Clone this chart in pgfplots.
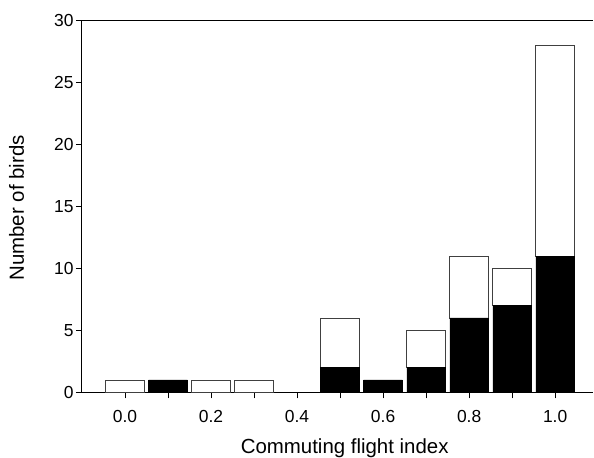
\documentclass[border=0pt]{standalone}
\usepackage{pgfplots}
\pgfplotsset{compat=1.18}
\usepackage{fontspec}
\setmainfont{Liberation Sans}
\begin{document}
\begin{tikzpicture}
\begin{axis}[
  at={(0,0)}, anchor=south west,
  scale only axis,
  width=511bp, height=371.6bp,
  xmin=-0.1, xmax=1.088,
  ymin=0, ymax=30,
  axis x line=box, axis y line=left,
  axis line style={-, line width=1bp, black},
  xtick pos=bottom, ytick pos=left,
  tick align=outside,
  major tick length=6bp, minor tick length=6bp,
  every tick/.style={black, line width=0.9bp},
  xtick={0,0.2,0.4,0.6,0.8,1.0},
  minor xtick={0.1,0.3,0.5,0.7,0.9},
  ytick={0,5,10,15,20,25,30},
  xticklabels={0.0,0.2,0.4,0.6,0.8,1.0},
  /pgf/number format/assume math mode=true,
  tick label style={font=\fontsize{17.5}{20}\selectfont},
  xticklabel style={yshift=-9bp},
  yticklabel style={xshift=1bp},
  label style={font=\fontsize{20.5}{24}\selectfont},
  xlabel={Commuting flight index},
  ylabel={Number of birds},
  xlabel style={at={(axis description cs:0.3039,-0.1640)}, anchor=base west},
  ylabel style={at={(axis description cs:-0.1282,0.496)}, anchor=center, rotate=0},
  ybar stacked,
  bar width=0.09,
]
\addplot[fill=black, draw=black, line width=0.5bp] coordinates {
  (0.0,0) (0.1,1) (0.2,0) (0.3,0) (0.5,2) (0.6,1) (0.7,2) (0.8,6) (0.9,7) (1.0,11)
};
\addplot[fill=white, draw=black!75, line width=0.6bp] coordinates {
  (0.0,1) (0.1,0) (0.2,1) (0.3,1) (0.5,4) (0.6,0) (0.7,3) (0.8,5) (0.9,3) (1.0,17)
};
\end{axis}
\pgfresetboundingbox
\path[use as bounding box] (-82bp,-65.7bp) rectangle (512bp,392.3bp);
\end{tikzpicture}
\end{document}
